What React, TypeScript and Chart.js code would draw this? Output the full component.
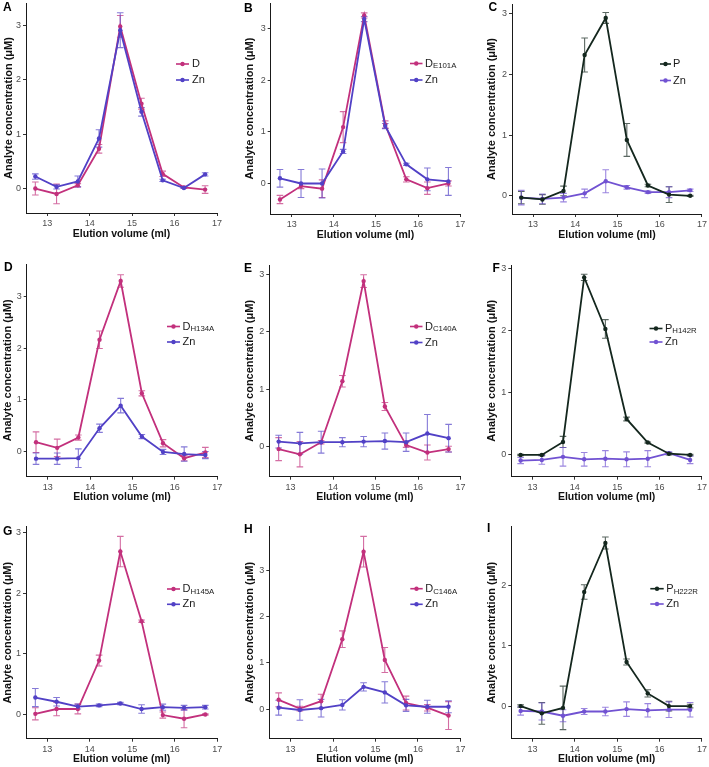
import React, { useEffect, useRef } from "react";
import { Chart, registerables } from "chart.js";
Chart.register(...registerables);

const FONT = "'Liberation Sans', Arial, Helvetica, sans-serif";
Chart.defaults.font.family = FONT;

// ---------- data ----------
const elutionVolume = [12.72, 13.22, 13.72, 14.22, 14.72, 15.22, 15.72, 16.22, 16.72];
const xTickValues = [13, 14, 15, 16, 17];
const yTickValues = [0, 1, 2, 3];
const xTitle = "Elution volume (ml)";
const yTitle = "Analyte concentration (μM)";

const aName = ["D", ""];
const aD = [0.0, -0.1, 0.06, 0.73, 2.98, 1.56, 0.27, 0.02, -0.02];
const aDErr = [0.12, 0.18, 0.03, 0.08, 0.2, 0.1, 0.05, 0.02, 0.07];
const aZn = [0.22, 0.03, 0.13, 0.92, 2.91, 1.41, 0.15, 0.01, 0.26];
const aZnErr = [0.05, 0.04, 0.1, 0.16, 0.32, 0.08, 0.02, 0.01, 0.03];

const bName = ["D", "E101A"];
const bD = [-0.31, -0.05, -0.1, 1.09, 3.25, 1.14, 0.08, -0.09, 0.0];
const bDErr = [0.08, 0.05, 0.17, 0.3, 0.05, 0.07, 0.05, 0.12, 0.05];
const bZn = [0.1, 0.0, 0.0, 0.62, 3.18, 1.11, 0.37, 0.08, 0.04];
const bZnErr = [0.17, 0.27, 0.28, 0.04, 0.05, 0.05, 0.02, 0.22, 0.27];

const cName = ["P", ""];
const cP = [-0.03, -0.06, 0.08, 2.32, 2.93, 0.92, 0.17, 0.02, 0.0];
const cPErr = [0.1, 0.08, 0.08, 0.28, 0.09, 0.27, 0.02, 0.13, 0.01];
const cZn = [-0.03, -0.05, -0.03, 0.04, 0.24, 0.14, 0.06, 0.06, 0.09];
const cZnErr = [0.12, 0.08, 0.07, 0.07, 0.19, 0.03, 0.02, 0.09, 0.02];

const dName = ["D", "H134A"];
const dD = [0.18, 0.07, 0.27, 2.17, 3.31, 1.13, 0.16, -0.13, -0.02];
const dDErr = [0.2, 0.17, 0.05, 0.17, 0.12, 0.05, 0.07, 0.05, 0.1];
const dZn = [-0.14, -0.14, -0.13, 0.45, 0.89, 0.29, -0.01, -0.05, -0.07];
const dZnErr = [0.11, 0.11, 0.18, 0.08, 0.14, 0.04, 0.05, 0.14, 0.07];

const eName = ["D", "C140A"];
const eD = [-0.04, -0.13, 0.08, 1.14, 2.88, 0.7, 0.03, -0.1, -0.04];
const eDErr = [0.2, 0.22, 0.03, 0.1, 0.11, 0.07, 0.04, 0.13, 0.05];
const eZn = [0.09, 0.06, 0.08, 0.08, 0.09, 0.1, 0.08, 0.23, 0.15];
const eZnErr = [0.11, 0.19, 0.19, 0.08, 0.09, 0.14, 0.16, 0.33, 0.24];

const fName = ["P", "H142R"];
const fP = [0.0, 0.0, 0.21, 2.86, 2.03, 0.58, 0.2, 0.02, 0.0];
const fPErr = [0.01, 0.01, 0.09, 0.05, 0.15, 0.03, 0.01, 0.02, 0.01];
const fZn = [-0.09, -0.08, -0.03, -0.07, -0.06, -0.07, -0.06, 0.03, -0.08];
const fZnErr = [0.05, 0.07, 0.15, 0.11, 0.13, 0.12, 0.13, 0.02, 0.06];

const gName = ["D", "H145A"];
const gD = [0.01, 0.09, 0.09, 0.89, 2.69, 1.54, -0.01, -0.07, 0.0];
const gDErr = [0.1, 0.11, 0.08, 0.09, 0.25, 0.02, 0.05, 0.15, 0.01];
const gZn = [0.28, 0.21, 0.13, 0.15, 0.18, 0.09, 0.12, 0.11, 0.12];
const gZnErr = [0.15, 0.07, 0.04, 0.02, 0.02, 0.07, 0.05, 0.04, 0.03];

const hName = ["D", "C146A"];
const hD = [0.2, 0.01, 0.17, 1.51, 3.4, 1.06, 0.13, 0.03, -0.14];
const hDErr = [0.15, 0.05, 0.15, 0.18, 0.33, 0.27, 0.15, 0.07, 0.3];
const hZn = [0.03, -0.02, 0.02, 0.09, 0.48, 0.36, 0.08, 0.05, 0.05];
const hZnErr = [0.16, 0.22, 0.19, 0.11, 0.09, 0.23, 0.13, 0.14, 0.13];

const iName = ["P", "H222R"];
const iP = [0.0, -0.12, -0.03, 1.89, 2.7, 0.73, 0.21, 0.0, 0.0];
const iPErr = [0.02, 0.18, 0.36, 0.12, 0.1, 0.05, 0.06, 0.08, 0.03];
const iZn = [-0.08, -0.09, -0.16, -0.09, -0.09, -0.05, -0.07, -0.06, -0.06];
const iZnErr = [0.07, 0.14, 0.1, 0.05, 0.07, 0.12, 0.11, 0.13, 0.12];

// ---------- styles & layout ----------
const COLORS = {
  D: { main: "#c2307c", mainErr: "rgba(194,48,124,0.7)", zn: "#5141c6", znErr: "rgba(81,65,198,0.7)" },
  P: { main: "#14271e", mainErr: "rgba(20,39,30,0.7)", zn: "#7152d2", znErr: "rgba(113,82,210,0.7)" },
};
const TOP_EXTRA = 20;
const BOTTOM_EXTRA = 10;
const X_AXIS_H = 31;

type PanelDef = {
  letter: string; kind: "D" | "P"; name: string[];
  main: number[]; mainErr: number[]; zn: number[]; znErr: number[];
  yMin: number; yMax: number;
  x0: number; y0: number; w: number; h: number;
  top: number; left: number; right: number; bottom: number;
  yTitleX: number; keyX0: number; keyX1: number; textX: number; row1: number; row2: number;
  letterX: number; letterY: number;
};

const panels: PanelDef[] = [
  { letter: "A", kind: "D", name: aName, main: aD, mainErr: aDErr, zn: aZn, znErr: aZnErr, yMin: -0.45, yMax: 3.41,
    x0: 0, y0: 0, w: 236, h: 250, top: 3, left: 26, right: 217, bottom: 213, yTitleX: 8.5,
    keyX0: 176, keyX1: 189, textX: 192, row1: 64, row2: 80, letterX: 3, letterY: 8 },
  { letter: "B", kind: "D", name: bName, main: bD, mainErr: bDErr, zn: bZn, znErr: bZnErr, yMin: -0.59, yMax: 3.49,
    x0: 236, y0: 0, w: 236, h: 250, top: 3, left: 34.7, right: 224.2, bottom: 214, yTitleX: 13.7,
    keyX0: 174, keyX1: 186.5, textX: 189, row1: 63.5, row2: 80, letterX: 8, letterY: 9 },
  { letter: "C", kind: "P", name: cName, main: cP, mainErr: cPErr, zn: cZn, znErr: cZnErr, yMin: -0.3, yMax: 3.16,
    x0: 472, y0: 0, w: 237, h: 250, top: 4, left: 40, right: 230.2, bottom: 214, yTitleX: 19.7,
    keyX0: 188, keyX1: 199, textX: 201, row1: 64, row2: 80.5, letterX: 16.5, letterY: 8 },
  { letter: "D", kind: "D", name: dName, main: dD, mainErr: dDErr, zn: dZn, znErr: dZnErr, yMin: -0.49, yMax: 3.64,
    x0: 0, y0: 250, w: 236, h: 260, top: 14, left: 26.7, right: 217.2, bottom: 226.7, yTitleX: 8,
    keyX0: 167, keyX1: 180, textX: 182.5, row1: 76.5, row2: 92, letterX: 4, letterY: 17.5 },
  { letter: "E", kind: "D", name: eName, main: eD, mainErr: eDErr, zn: eZn, znErr: eZnErr, yMin: -0.52, yMax: 3.16,
    x0: 236, y0: 250, w: 236, h: 260, top: 15, left: 33.3, right: 224.5, bottom: 226.7, yTitleX: 14,
    keyX0: 174, keyX1: 186.5, textX: 189, row1: 76.5, row2: 92.5, letterX: 8, letterY: 19 },
  { letter: "F", kind: "P", name: fName, main: fP, mainErr: fPErr, zn: fZn, znErr: fZnErr, yMin: -0.35, yMax: 3.06,
    x0: 472, y0: 250, w: 237, h: 260, top: 15, left: 39.3, right: 230.2, bottom: 226.7, yTitleX: 20,
    keyX0: 177.5, keyX1: 190.5, textX: 193, row1: 78.5, row2: 92, letterX: 20.5, letterY: 19 },
  { letter: "G", kind: "D", name: gName, main: gD, mainErr: gDErr, zn: gZn, znErr: gZnErr, yMin: -0.4, yMax: 3.1,
    x0: 0, y0: 510, w: 236, h: 257, top: 16.7, left: 26, right: 217.2, bottom: 228.7, yTitleX: 7.5,
    keyX0: 167, keyX1: 180, textX: 182.5, row1: 79, row2: 94.3, letterX: 3, letterY: 21.5 },
  { letter: "H", kind: "D", name: hName, main: hD, mainErr: hDErr, zn: hZn, znErr: hZnErr, yMin: -0.64, yMax: 3.94,
    x0: 236, y0: 510, w: 236, h: 257, top: 16.7, left: 33.3, right: 224.4, bottom: 228.7, yTitleX: 14,
    keyX0: 174.3, keyX1: 186.7, textX: 189.3, row1: 78.7, row2: 94.3, letterX: 8, letterY: 19.5 },
  { letter: "I", kind: "P", name: iName, main: iP, mainErr: iPErr, zn: iZn, znErr: iZnErr, yMin: -0.54, yMax: 2.97,
    x0: 472, y0: 510, w: 237, h: 257, top: 16.7, left: 39.3, right: 230.2, bottom: 228.7, yTitleX: 20,
    keyX0: 178.3, keyX1: 191.7, textX: 194.3, row1: 78.7, row2: 94, letterX: 15, letterY: 19 },
];

function decoPlugin(p: PanelDef) {
  const col = COLORS[p.kind];
  return {
    id: "deco" + p.letter,
    beforeDatasetsDraw(chart: any) {
      const ctx = chart.ctx;
      const xs = chart.scales.x;
      const ys = chart.scales.y;
      chart.data.datasets.forEach((ds: any) => {
        ctx.save();
        ctx.strokeStyle = ds.errColor;
        ctx.lineWidth = 1.1;
        ds.data.forEach((pt: any, i: number) => {
          const e = ds.errors[i];
          const px = xs.getPixelForValue(pt.x);
          const t = ys.getPixelForValue(pt.y + e);
          const b = ys.getPixelForValue(pt.y - e);
          ctx.beginPath();
          ctx.moveTo(px, t); ctx.lineTo(px, b);
          ctx.moveTo(px - 3.3, t); ctx.lineTo(px + 3.3, t);
          ctx.moveTo(px - 3.3, b); ctx.lineTo(px + 3.3, b);
          ctx.stroke();
        });
        ctx.restore();
      });
    },
    afterDraw(chart: any) {
      const ctx = chart.ctx;
      ctx.save();
      // panel letter
      ctx.fillStyle = "#000";
      ctx.font = `bold 12px ${FONT}`;
      ctx.textBaseline = "middle";
      ctx.textAlign = "left";
      ctx.fillText(p.letter, p.letterX, p.letterY + TOP_EXTRA);
      // legend
      const rows = [
        { main: p.name[0], sub: p.name[1], color: col.main, y: p.row1 },
        { main: "Zn", sub: "", color: col.zn, y: p.row2 },
      ];
      rows.forEach((r) => {
        const y = r.y + TOP_EXTRA;
        ctx.strokeStyle = r.color;
        ctx.lineWidth = 1.6;
        ctx.beginPath();
        ctx.moveTo(p.keyX0, y);
        ctx.lineTo(p.keyX1, y);
        ctx.stroke();
        ctx.fillStyle = r.color;
        ctx.beginPath();
        ctx.arc((p.keyX0 + p.keyX1) / 2, y, 2.2, 0, Math.PI * 2);
        ctx.fill();
        ctx.fillStyle = "#1a1a1a";
        ctx.font = `11px ${FONT}`;
        ctx.textBaseline = "middle";
        ctx.fillText(r.main, p.textX, y);
        if (r.sub) {
          const w = ctx.measureText(r.main).width;
          ctx.font = `7.8px ${FONT}`;
          ctx.fillText(r.sub, p.textX + w, y + 2.8);
        }
      });
      ctx.restore();
    },
  };
}

function Panel({ p }: { p: PanelDef }) {
  const ref = useRef<HTMLCanvasElement | null>(null);
  const cw = p.w;
  const ch = p.h + TOP_EXTRA + BOTTOM_EXTRA;
  useEffect(() => {
    if (!ref.current) return;
    const col = COLORS[p.kind];
    const mk = (vals: number[]) => elutionVolume.map((x, i) => ({ x, y: vals[i] }));
    const tickFont = { size: 9, family: FONT };
    const chart = new Chart(ref.current, {
      type: "line",
      data: {
        datasets: [
          {
            label: p.name.join(""),
            data: mk(p.main),
            errors: p.mainErr,
            errColor: col.mainErr,
            borderColor: col.main,
            backgroundColor: col.main,
            borderWidth: 1.8,
            pointRadius: 2.2,
            pointBorderWidth: 0,
            tension: 0,
            order: p.kind === "P" ? 0 : 1,
          } as any,
          {
            label: "Zn",
            data: mk(p.zn),
            errors: p.znErr,
            errColor: col.znErr,
            borderColor: col.zn,
            backgroundColor: col.zn,
            borderWidth: 1.8,
            pointRadius: 2.2,
            pointBorderWidth: 0,
            tension: 0,
            order: p.kind === "P" ? 1 : 0,
          } as any,
        ],
      },
      options: {
        animation: false,
        responsive: false,
        maintainAspectRatio: false,
        devicePixelRatio: 1,
        layout: {
          padding: {
            top: p.top + TOP_EXTRA,
            left: 0,
            right: cw - p.right,
            bottom: p.h + BOTTOM_EXTRA - p.bottom - X_AXIS_H,
          },
        },
        plugins: { legend: { display: false }, tooltip: { enabled: false } },
        scales: {
          x: {
            type: "linear",
            min: 12.5,
            max: 17,
            afterBuildTicks: (a: any) => { a.ticks = xTickValues.map((v) => ({ value: v })); },
            afterFit: (s: any) => { s.height = X_AXIS_H; },
            grid: { drawOnChartArea: false, drawTicks: true, tickLength: 3, color: "#333" },
            border: { display: true, color: "#1a1a1a", width: 1 },
            ticks: { font: tickFont, color: "#4d4d4d", padding: 2, maxRotation: 0, autoSkip: false },
            title: { display: true, text: xTitle, color: "#111", font: { size: 10.5, weight: "bold", family: FONT }, padding: { top: 0, bottom: 4 } },
          },
          y: {
            type: "linear",
            min: p.yMin,
            max: p.yMax,
            afterBuildTicks: (a: any) => { a.ticks = yTickValues.filter((v) => v >= p.yMin && v <= p.yMax).map((v) => ({ value: v })); },
            afterFit: (s: any) => { s.width = p.left; },
            grid: { drawOnChartArea: false, drawTicks: true, tickLength: 3, color: "#333" },
            border: { display: true, color: "#1a1a1a", width: 1 },
            ticks: { font: tickFont, color: "#4d4d4d", padding: 2 },
            title: { display: true, text: yTitle, color: "#111", font: { size: 11, weight: "bold", family: FONT }, padding: { top: p.yTitleX - 6.6, bottom: 0 } },
          },
        },
      } as any,
      plugins: [decoPlugin(p)],
    });
    return () => chart.destroy();
  }, []);
  return (
    <canvas
      ref={ref}
      width={cw}
      height={ch}
      style={{ position: "absolute", left: p.x0, top: p.y0 - TOP_EXTRA, width: cw, height: ch }}
    />
  );
}

export default function App() {
  return (
    <div style={{ position: "fixed", left: 0, top: 0, width: 709, height: 767, overflow: "hidden", background: "#fff" }}>
      {panels.map((p) => (
        <Panel key={p.letter} p={p} />
      ))}
    </div>
  );
}
